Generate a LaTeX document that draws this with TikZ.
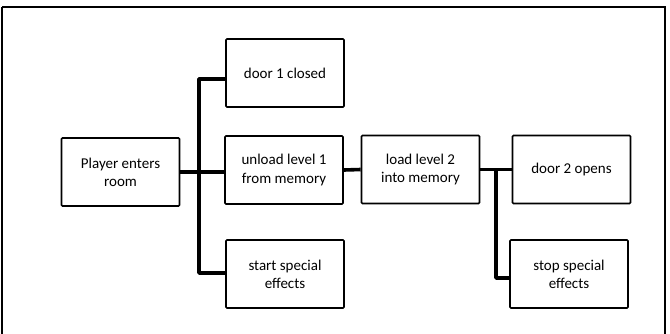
\documentclass[tikz,border=0pt]{standalone}
\usepackage{fontspec}
\setmainfont{Carlito}
\begin{document}
\begin{tikzpicture}[x=1pt,y=-1pt,
  box/.style={draw, line width=1.6pt, rounded corners=1pt, minimum width=118pt, minimum height=68pt, inner sep=0pt, align=center, font=\fontsize{15}{18.3}\selectfont},
  link/.style={line width=3.6pt, line join=round}]
\useasboundingbox (0,0) rectangle (670,333);
\draw[line width=1.5pt] (2,7) -- (2,345) (2,7) -- (665,7) -- (665,345);
\node[box] (player) at (120.5,172) {Player enters\\room};
\node[box] (door1) at (285,73) {door 1 closed};
\node[box] (unload) at (284,170) {unload level 1\\from memory};
\node[box] (start) at (285,274) {start special\\effects};
\node[box] (load) at (420.5,169.5) {load level 2\\into memory};
\node[box] (door2) at (571.5,169.5) {door 2 opens};
\node[box] (stop) at (569,274) {stop special\\effects};
\coordinate (t1) at (199,172);
\coordinate (t1top) at (199,79);
\coordinate (t1bot) at (199,273);
\coordinate (t2) at (496,169.5);
\coordinate (t2bot) at (496,278);
\draw[link] (player.east |- t1) -- (t1) -- (t1 -| unload.west);
\draw[link] (t1top -| door1.west) -- (t1top) -- (t1bot) -- (t1bot -| start.west);
\draw[link] (unload.east) -- (load.west);
\draw[link] (load.east) -- (door2.west);
\draw[link] (t2) -- (t2bot) -- (t2bot -| stop.west);
\end{tikzpicture}
\end{document}
